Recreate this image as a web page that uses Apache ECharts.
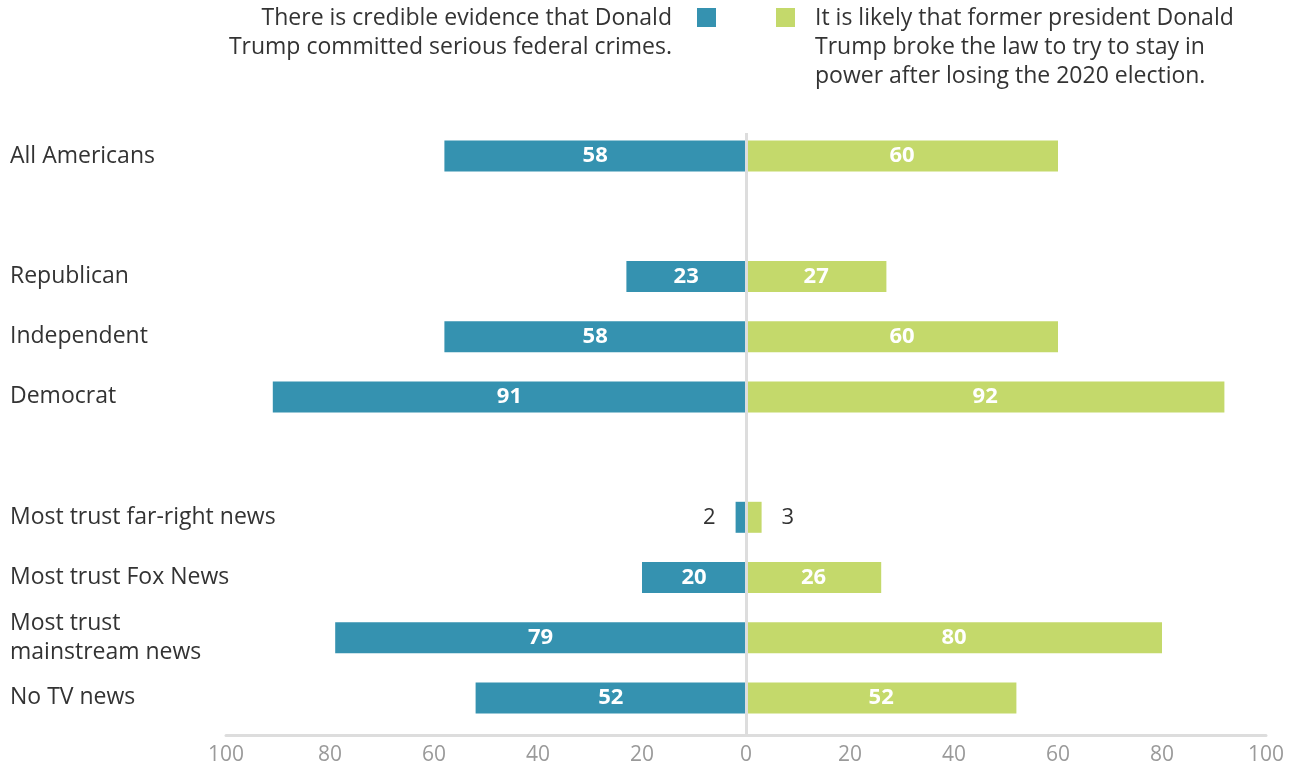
<!DOCTYPE html>
<html>
<head>
<meta charset="utf-8">
<title>Trump legal beliefs by group</title>
<script src="https://cdn.jsdelivr.net/npm/echarts@6/dist/echarts.min.js"></script>
<style>
  html, body { margin: 0; padding: 0; background: #fff; }
  #chart { width: 1299px; height: 773px; }
</style>
</head>
<body>
<div id="chart"></div>
<script>
// Groups, top to bottom; blank entries are spacer rows between blocks
const categories = [
  'All Americans',
  '',
  'Republican',
  'Independent',
  'Democrat',
  ' ',
  'Most trust far-right news',
  'Most trust Fox News',
  'Most trust\nmainstream news',
  'No TV news'
];

// % agreeing: credible evidence of serious federal crimes
const credibleEvidence = [58, null, 23, 58, 91, null, 2, 20, 79, 52];
// % agreeing: likely broke the law to stay in power after 2020
const brokeLaw = [60, null, 27, 60, 92, null, 3, 26, 80, 52];

const axisTicks = [-100, -80, -60, -40, -20, 0, 20, 40, 60, 80, 100];

const legendLeft = 'There is credible evidence that Donald\nTrump committed serious federal crimes.';
const legendRight = 'It is likely that former president Donald\nTrump broke the law to try to stay in\npower after losing the 2020 election.';

const TEAL = '#3592b0';
const GREEN = '#c4d96b';
const TEXT = '#333333';
const FONT = '"Open Sans", "Noto Sans", sans-serif';

// Bars too short for an inside label get their number outside, in dark text
function barItems(values, sign, outsidePos) {
  return values.map(v => {
    if (v == null) return null;
    const item = { value: sign * v };
    if (v < 5) {
      item.label = {
        position: outsidePos,
        distance: 20,
        color: TEXT,
        fontWeight: 'normal',
        fontSize: 22
      };
    }
    return item;
  });
}

const barLabel = {
  show: true,
  position: 'inside',
  color: '#ffffff',
  fontWeight: 'bold',
  fontSize: 22,
  fontFamily: FONT,
  formatter: p => Math.abs(p.value)
};

const chart = echarts.init(document.getElementById('chart'), null, { renderer: 'canvas' });

chart.setOption({
  animation: false,
  textStyle: { fontFamily: FONT },
  grid: [
    { left: 226, right: 33, top: 126, bottom: 45 },
    { left: 226, right: 33, top: 133, bottom: 38 }
  ],
  xAxis: [
    { gridIndex: 0, type: 'value', min: axisTicks[0], max: axisTicks[axisTicks.length - 1], show: false },
    {
      gridIndex: 1,
      type: 'value',
      min: axisTicks[0],
      max: axisTicks[axisTicks.length - 1],
      interval: axisTicks[1] - axisTicks[0],
      axisLine: { show: true, onZero: false, lineStyle: { color: '#dddddd', width: 3 } },
      axisTick: { show: false },
      splitLine: { show: false },
      axisLabel: {
        color: '#9a9a9a',
        fontSize: 21,
        fontFamily: FONT,
        margin: 10,
        formatter: v => Math.abs(v)
      }
    }
  ],
  yAxis: [
    {
      gridIndex: 0,
      type: 'category',
      inverse: true,
      data: categories,
      axisLine: { show: false, onZero: false },
      axisTick: { show: false },
      splitLine: { show: false },
      axisLabel: {
        align: 'left',
        margin: 216,
        color: TEXT,
        fontSize: 23,
        lineHeight: 29,
        fontFamily: FONT
      }
    },
    { gridIndex: 1, type: 'value', min: 0, max: 1, show: false }
  ],
  series: [
    {
      name: 'Credible evidence of serious federal crimes',
      type: 'bar',
      stack: 'groups',
      xAxisIndex: 0,
      yAxisIndex: 0,
      barWidth: 31,
      itemStyle: { color: TEAL },
      label: barLabel,
      data: barItems(credibleEvidence, -1, 'left')
    },
    {
      name: 'Likely broke the law to stay in power',
      type: 'bar',
      stack: 'groups',
      xAxisIndex: 0,
      yAxisIndex: 0,
      barWidth: 31,
      itemStyle: { color: GREEN },
      label: barLabel,
      data: barItems(brokeLaw, 1, 'right')
    },
    {
      // zero reference line running down to the value axis
      name: 'zero',
      type: 'line',
      xAxisIndex: 1,
      yAxisIndex: 1,
      data: [],
      z: 10,
      markLine: {
        silent: true,
        symbol: 'none',
        label: { show: false },
        lineStyle: { color: '#dddddd', width: 3, type: 'solid' },
        data: [{ xAxis: 0 }]
      }
    }
  ],
  graphic: [
    {
      type: 'text',
      x: 672,
      y: 4,
      style: {
        text: legendLeft,
        align: 'right',
        verticalAlign: 'top',
        font: '23px ' + FONT,
        lineHeight: 29,
        fill: TEXT
      }
    },
    {
      type: 'rect',
      x: 697,
      y: 8,
      shape: { width: 19, height: 19 },
      style: { fill: TEAL }
    },
    {
      type: 'rect',
      x: 776,
      y: 8,
      shape: { width: 19, height: 19 },
      style: { fill: GREEN }
    },
    {
      type: 'text',
      x: 815,
      y: 4,
      style: {
        text: legendRight,
        align: 'left',
        verticalAlign: 'top',
        font: '23px ' + FONT,
        lineHeight: 29,
        fill: TEXT
      }
    }
  ]
});
</script>
</body>
</html>
